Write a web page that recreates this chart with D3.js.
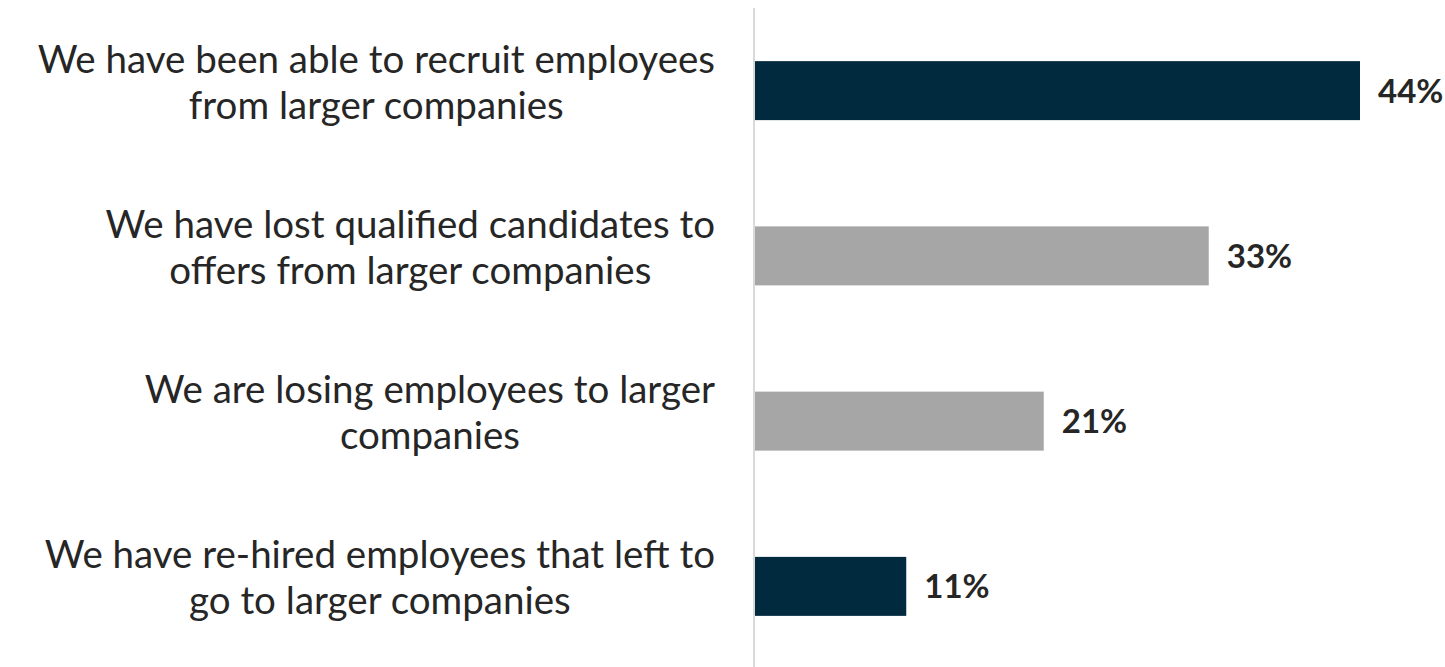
<!DOCTYPE html>
<html>
<head>
<meta charset="utf-8">
<script src="https://cdn.jsdelivr.net/npm/d3@7"></script>
<style>
  html, body { margin: 0; padding: 0; background: #ffffff; }
  svg { display: block; }
</style>
</head>
<body>
<svg id="chart" width="1445" height="667"></svg>
<script>
// Survey statements (each split into its displayed lines)
const categories = [
  ["We have been able to recruit employees", "from larger companies"],
  ["We have lost qualified candidates to", "offers from larger companies"],
  ["We are losing employees to larger", "companies"],
  ["We have re-hired employees that left to", "go to larger companies"]
];
const values = [44, 33, 21, 11];
const valueLabels = ["44%", "33%", "21%", "11%"];
const barColors = ["#022a3f", "#a6a6a6", "#a6a6a6", "#022a3f"];

const svg = d3.select("#chart");
const axisX = 755;
const labelRight = 715;

const x = d3.scaleLinear().domain([0, 44]).range([axisX, 1360]);
const y = d3.scaleBand()
  .domain(d3.range(categories.length))
  .range([8, 669])
  .paddingInner(0.643)
  .paddingOuter(0.3215);

// vertical category axis line
svg.append("line")
  .attr("x1", axisX - 1).attr("x2", axisX - 1)
  .attr("y1", 8).attr("y2", 667)
  .attr("stroke", "#d9d9d9")
  .attr("stroke-width", 2);

// bars
svg.selectAll("rect.bar")
  .data(values)
  .join("rect")
  .attr("class", "bar")
  .attr("x", x(0))
  .attr("y", (d, i) => y(i))
  .attr("width", d => x(d) - x(0))
  .attr("height", y.bandwidth())
  .attr("fill", (d, i) => barColors[i]);

// value labels
svg.selectAll("text.val")
  .data(values)
  .join("text")
  .attr("class", "val")
  .attr("x", d => x(d) + 18)
  .attr("y", (d, i) => y(i) + y.bandwidth() / 2 + 12)
  .attr("font-family", "Lato, 'Open Sans', sans-serif")
  .attr("font-weight", "bold")
  .attr("font-size", 33)
  .attr("fill", "#262626")
  .text((d, i) => valueLabels[i]);

// category labels: lines centred on each other, block right-aligned to the axis
categories.forEach((lines, i) => {
  const cy = y(i) + y.bandwidth() / 2;
  const g = svg.append("g");
  const texts = lines.map((line, j) =>
    g.append("text")
      .attr("y", cy - 18 + j * 46)
      .attr("text-anchor", "middle")
      .attr("font-family", "Lato, 'Open Sans', sans-serif")
      .attr("font-size", 38.5)
      .attr("fill", "#262626")
      .text(line)
  );
  const maxW = d3.max(texts, t => t.node().getComputedTextLength());
  texts.forEach(t => t.attr("x", labelRight - maxW / 2));
});
</script>
</body>
</html>
